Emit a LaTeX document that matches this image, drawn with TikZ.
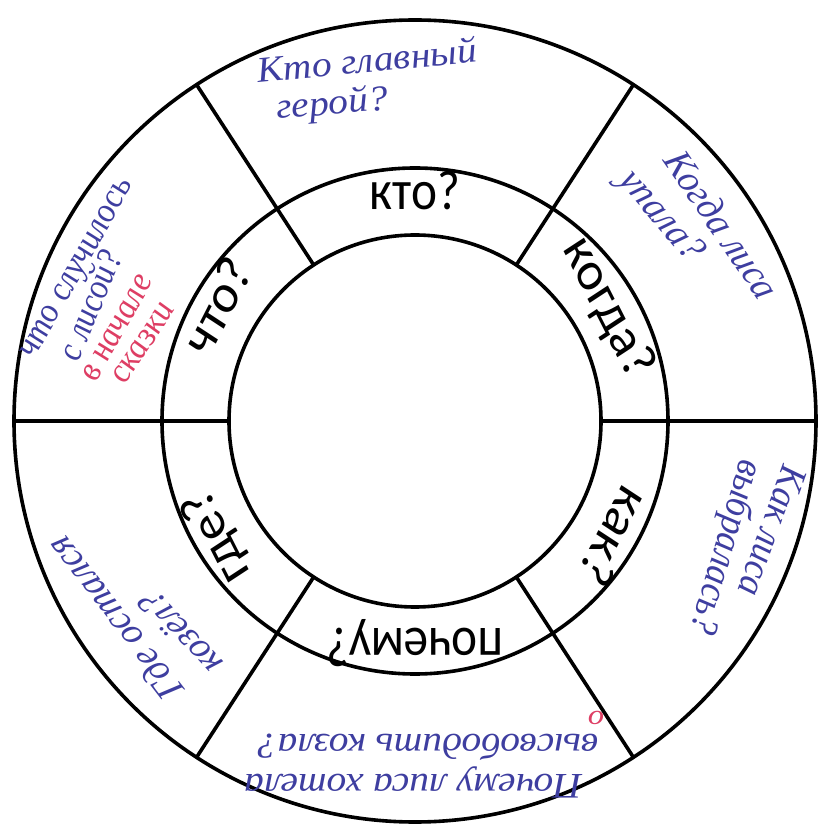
\documentclass[tikz,border=0pt]{standalone}
\usepackage{fontspec}
\setmainfont{Liberation Serif}
\newfontfamily\labfont{Carlito}
\newfontfamily\handfont{Liberation Serif}
\definecolor{inkblue}{RGB}{62,62,160}
\definecolor{inkred}{RGB}{222,62,100}
\begin{document}
\begin{tikzpicture}[x=1pt,y=1pt,
  ring/.style={line width=3.6pt, draw=black},
  lab/.style={font=\labfont\fontsize{56}{56}\selectfont, inner sep=0pt, text height=1ex, text depth=0pt, xscale=0.88},
  hand/.style={font=\handfont\itshape\fontsize{36}{36}\selectfont, text=inkblue, inner sep=0pt, text height=1ex, text depth=0pt, xscale=1.1},
  handsmall/.style={hand, font=\handfont\itshape\fontsize{32}{32}\selectfont, xscale=1.05},
  handred/.style={handsmall, text=inkred}]
\useasboundingbox (-415,-408) rectangle (404,421);
\fill[white] (-415,-408) rectangle (404,421);
% rings
\draw[ring] (0,0) circle (401);
\draw[ring] (0,0) circle (253);
\draw[ring] (0,0) circle (186);
\foreach \a in {0,57,123,180,237,303} \draw[ring] (\a:186) -- (\a:401);
% printed labels
\node[lab, rotate=0]    (kto)    at (90:214)  {кто?};
\node[lab, rotate=60]   (chto)   at (150:214) {что?};
\node[lab, rotate=-60]  (kogda)  at (30:212)  {когда?};
\node[lab, rotate=-120] (kak)    at (-30:216) {как?};
\node[lab, rotate=180]  (pochemu) at (-90:210) {почему?};
\node[lab, rotate=120]  (gde)    at (210:218) {где?};
% handwritten answers
\node[hand, rotate=6]    (h1a) at (-47,351)  {Кто главный};
\node[hand, rotate=5]    (h1b) at (-82,309)  {герой?};
\node[hand, rotate=-58]  (h2a) at (298,191)  {Когда лиса};
\node[hand, rotate=-52]  (h2b) at (240,201)  {упала?};
\node[hand, rotate=-108] (h3a) at (348,-107) {Как лиса};
\node[hand, rotate=-105] (h3b) at (303,-124) {выбралась?};
\node[hand, rotate=180]  (h4a) at (-2,-356)  {Почему лиса хотела};
\node[hand, rotate=180]  (h4b) at (13,-316)  {высвободить козла?};
\node[handred, rotate=180, font=\handfont\itshape\fontsize{28}{28}\selectfont] (h4c) at (181,-293) {о};
\node[hand, rotate=125]  (h5a) at (-292,-192) {Где остался};
\node[hand, rotate=130]  (h5b) at (-227,-206) {козёл?};
\node[handsmall, rotate=64]  (h6a) at (155.7:366) {что случилось};
\node[handsmall, rotate=70]  (h6b) at (160.4:336) {с лисой?};
\node[handred, rotate=64]    (h6c) at (162.7:306) {в начале};
\node[handred, rotate=60]    (h6d) at (164.2:277) {сказки};
\end{tikzpicture}
\end{document}
